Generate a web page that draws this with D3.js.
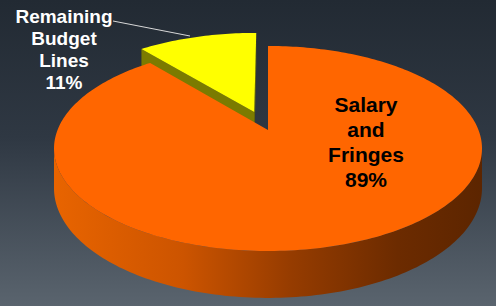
<!DOCTYPE html>
<html>
<head>
<meta charset="utf-8">
<script src="https://cdn.jsdelivr.net/npm/d3@7"></script>
<style>
  html, body { margin: 0; padding: 0; background: #222a33; }
  svg { display: block; }
</style>
</head>
<body>
<div id="chart"></div>
<script>
// slice data, in drawing order (first slice starts left of 12 o'clock)
var categories = ["Remaining Budget Lines", "Salary and Fringes"];
var values = [11, 89];
var labelLines = [["Remaining", "Budget", "Lines", "11%"], ["Salary", "and", "Fringes", "89%"]];
var topColors = ["#ffff00", "#ff6600"];
var sideColors = ["#7b7b00", "#c45000"];
var explode = [0.2, 0];

var width = 496, height = 306;

// simple perspective for the pie disc: u right, v away from viewer, z down (0 top, 1 bottom)
var cx = 268, cy = 130, fx = 210.5, fy = 99.2, k = 0.18, depth = 38.5;
function project(u, v, z) {
    var w = 1 + k * v;
    return [cx + fx * u / w, cy + (-fy * v + depth * z) / w];
}

var svg = d3.select("#chart").append("svg")
    .attr("width", width)
    .attr("height", height);

var defs = svg.append("defs");

var bg = defs.append("linearGradient").attr("id", "bg")
    .attr("x1", 0).attr("y1", 0).attr("x2", 0).attr("y2", 1);
bg.append("stop").attr("offset", "0").attr("stop-color", "#222a33");
bg.append("stop").attr("offset", "0.45").attr("stop-color", "#2f3843");
bg.append("stop").attr("offset", "1").attr("stop-color", "#5a646e");

var sideGrad = defs.append("linearGradient").attr("id", "sideGrad")
    .attr("gradientUnits", "userSpaceOnUse")
    .attr("x1", 55).attr("y1", 0).attr("x2", 483).attr("y2", 0);
sideGrad.append("stop").attr("offset", "0").attr("stop-color", "#e86400");
sideGrad.append("stop").attr("offset", "0.3").attr("stop-color", "#cc5400");
sideGrad.append("stop").attr("offset", "0.55").attr("stop-color", "#963c00");
sideGrad.append("stop").attr("offset", "0.8").attr("stop-color", "#6c2b00");
sideGrad.append("stop").attr("offset", "1").attr("stop-color", "#5c2500");

svg.append("rect")
    .attr("width", width)
    .attr("height", height)
    .attr("fill", "url(#bg)");

var total = d3.sum(values);
var start = -values[0] / total * 2 * Math.PI;
var pie = d3.pie().sort(null)
    .startAngle(start)
    .endAngle(start + 2 * Math.PI);
var arcs = pie(values);

var line = d3.line();

function offsetOf(d, i) {
    var mid = (d.startAngle + d.endAngle) / 2;
    return [explode[i] * Math.sin(mid), explode[i] * Math.cos(mid)];
}

function arcPoints(a0, a1, z, off) {
    var pts = [], n = Math.max(2, Math.ceil(Math.abs(a1 - a0) / 0.02));
    for (var j = 0; j <= n; j++) {
        var a = a0 + (a1 - a0) * j / n;
        pts.push(project(Math.sin(a) + off[0], Math.cos(a) + off[1], z));
    }
    return pts;
}

function topPath(d, i) {
    var off = offsetOf(d, i);
    var pts = [project(off[0], off[1], 0)].concat(arcPoints(d.startAngle, d.endAngle, 0, off));
    return line(pts) + "Z";
}

function radialFace(a, off) {
    var u = Math.sin(a), v = Math.cos(a);
    return line([
        project(off[0], off[1], 0),
        project(u + off[0], v + off[1], 0),
        project(u + off[0], v + off[1], 1),
        project(off[0], off[1], 1)
    ]) + "Z";
}

// front part of the outer wall that faces the viewer
var sil = Math.acos(-k);
function outerSide(d, i) {
    var off = offsetOf(d, i);
    var a0 = Math.max(d.startAngle, sil), a1 = Math.min(d.endAngle, 2 * Math.PI - sil);
    if (a1 <= a0) return null;
    var pts = arcPoints(a0, a1, 0, off).concat(arcPoints(a1, a0, 1, off));
    return line(pts) + "Z";
}

// exploded small slice first, its visible walls, then the big slice
var yellow = arcs[0], orange = arcs[1];
var yOff = offsetOf(yellow, 0);

svg.append("path")
    .attr("d", radialFace(yellow.endAngle, yOff))
    .attr("fill", "#6a6a00");
svg.append("path")
    .attr("d", radialFace(yellow.startAngle, yOff))
    .attr("fill", sideColors[0]);
svg.append("path")
    .attr("d", topPath(yellow, 0))
    .attr("fill", topColors[0]);

var oSide = outerSide(orange, 1);
if (oSide) {
    svg.append("path")
        .attr("d", oSide)
        .attr("fill", "url(#sideGrad)");
}
svg.append("path")
    .attr("d", topPath(orange, 1))
    .attr("fill", topColors[1]);

// leader line for the outside label
svg.append("line")
    .attr("x1", 113).attr("y1", 21)
    .attr("x2", 190).attr("y2", 36)
    .attr("stroke", "#d8d8d8")
    .attr("stroke-width", 1);

var font = "'Liberation Sans', Arial, Helvetica, sans-serif";

var outLabel = svg.append("text")
    .attr("font-family", font)
    .attr("font-weight", "bold")
    .attr("font-size", 19)
    .attr("fill", "#ffffff")
    .attr("text-anchor", "middle");
labelLines[0].forEach(function (t, j) {
    outLabel.append("tspan").attr("x", 64).attr("y", 23 + j * 22).text(t);
});

var inLabel = svg.append("text")
    .attr("font-family", font)
    .attr("font-weight", "bold")
    .attr("font-size", 21)
    .attr("fill", "#000000")
    .attr("text-anchor", "middle");
labelLines[1].forEach(function (t, j) {
    inLabel.append("tspan").attr("x", 366).attr("y", 112 + j * 25).text(t);
});
</script>
</body>
</html>
